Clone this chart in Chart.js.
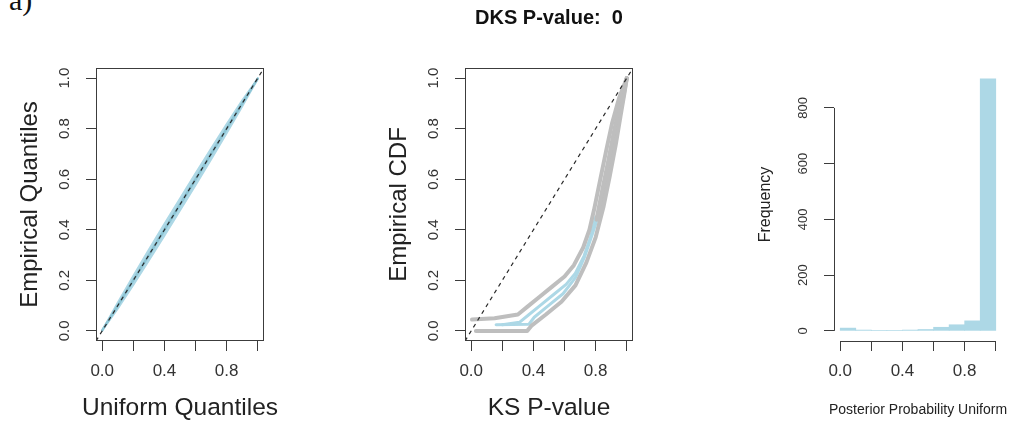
<!DOCTYPE html>
<html>
<head>
<meta charset="utf-8">
<script src="https://cdn.jsdelivr.net/npm/chart.js@4.4.1/dist/chart.umd.min.js"></script>
<style>
  html, body { margin: 0; padding: 0; background: #fff; width: 1028px; height: 428px; overflow: hidden; }
  .panel { position: absolute; top: 0; height: 428px; }
  #tag { position: absolute; left: 9px; top: -15px; font-family: "Liberation Serif", "DejaVu Serif", serif;
         font-size: 30px; line-height: 30px; color: #111; }
</style>
</head>
<body>
<div id="tag">a)</div>
<div class="panel" style="left:0px;width:300px"><canvas id="qq"></canvas></div>
<div class="panel" style="left:369px;width:300px"><canvas id="ks"></canvas></div>
<div class="panel" style="left:738px;width:290px"><canvas id="hist"></canvas></div>
<script>
// ---- shared tick definitions ----
const unitTicks = [0, 0.2, 0.4, 0.6, 0.8, 1.0];
const unitYLabels = ['0.0', '0.2', '0.4', '0.6', '0.8', '1.0'];
const unitXLabels = ['0.0', '', '0.4', '', '0.8', ''];
const freqTicks = [0, 200, 400, 600, 800];
const freqLabels = ['0', '200', '400', '600', '800'];

// ---- Q-Q panel: empirical vs uniform quantiles ----
const qqUniform  = [0, 0.1, 0.2, 0.3, 0.4, 0.5, 0.6, 0.7, 0.8, 0.9, 1.0];
const qqBandHigh = [0.004, 0.114, 0.220, 0.323, 0.425, 0.525, 0.625, 0.723, 0.820, 0.914, 1.0];
const qqBandLow  = [0.0, 0.086, 0.180, 0.277, 0.375, 0.475, 0.575, 0.677, 0.780, 0.886, 0.996];
const qqMedian   = [0.002, 0.100, 0.201, 0.300, 0.400, 0.500, 0.600, 0.700, 0.800, 0.900, 0.998];
const identityLine = [-0.04, 1.04];

// ---- KS panel: ECDF curves of KS p-values ----
const ksUpperX = [0.005, 0.15, 0.30, 0.36, 0.44, 0.52, 0.60, 0.66, 0.72, 0.76, 0.79, 0.83, 0.87, 0.905, 0.95, 1.0];
const ksUpperY = [0.045, 0.050, 0.065, 0.095, 0.135, 0.175, 0.215, 0.260, 0.330, 0.400, 0.480, 0.600, 0.720, 0.820, 0.920, 1.0];
const ksLowerX = [0.03, 0.36, 0.39, 0.48, 0.58, 0.67, 0.74, 0.80, 0.85, 0.89, 0.93, 0.96, 0.985, 1.0];
const ksLowerY = [0.0, 0.0, 0.022, 0.065, 0.115, 0.180, 0.270, 0.370, 0.490, 0.610, 0.740, 0.850, 0.940, 1.0];
const ksMidAX  = [0.805, 0.84, 0.88, 0.915, 0.95, 0.98, 1.0];
const ksMidAY  = [0.440, 0.550, 0.670, 0.780, 0.880, 0.960, 1.0];
const ksMidBX  = [0.825, 0.86, 0.895, 0.93, 0.96, 0.985, 1.0];
const ksMidBY  = [0.440, 0.550, 0.660, 0.780, 0.870, 0.950, 1.0];
const ksBlueAX = [0.20, 0.31, 0.37, 0.45, 0.53, 0.61, 0.67, 0.725, 0.765, 0.80];
const ksBlueAY = [0.024, 0.034, 0.064, 0.104, 0.144, 0.184, 0.228, 0.296, 0.366, 0.450];
const ksBlueBX = [0.16, 0.37, 0.405, 0.49, 0.59, 0.67, 0.73, 0.78, 0.82];
const ksBlueBY = [0.024, 0.026, 0.054, 0.097, 0.147, 0.211, 0.295, 0.385, 0.460];

// ---- histogram of posterior probability ----
const histBinMids = [0.05, 0.15, 0.25, 0.35, 0.45, 0.55, 0.65, 0.75, 0.85, 0.95];
const histCounts  = [10, 3, 2, 2, 3, 5, 13, 22, 36, 904];

const pts = (xs, ys) => xs.map((x, i) => ({ x: x, y: ys[i] }));

const FONT = '"Liberation Sans", Arial, Helvetica, sans-serif';
Chart.defaults.font.family = FONT;
Chart.defaults.color = '#333';
Chart.defaults.animation = false;

const LIGHTBLUE = '#add8e6';
const GRAY = '#bebebe';
const INK = '#3c3c3c';

// Frame around the plot region (box) or R-style axis lines spanning first..last tick,
// plus the x-axis caption centred under the plot region.
const rFrame = {
  id: 'rFrame',
  afterDraw(chart, args, o) {
    const { ctx, chartArea: a } = chart;
    ctx.save();
    ctx.strokeStyle = INK;
    ctx.lineWidth = 1;
    if (o.mode === 'box') {
      ctx.strokeRect(a.left + 0.5, a.top + 0.5, a.right - a.left - 1, a.bottom - a.top - 1);
    } else if (o.mode === 'axes') {
      const xs = chart.scales.x, ys = chart.scales.y;
      ctx.beginPath();
      ctx.moveTo(a.left + 0.5, ys.getPixelForValue(o.yTicks[0]));
      ctx.lineTo(a.left + 0.5, ys.getPixelForValue(o.yTicks[o.yTicks.length - 1]));
      ctx.moveTo(xs.getPixelForValue(o.xTicks[0]), a.bottom + 0.5);
      ctx.lineTo(xs.getPixelForValue(o.xTicks[o.xTicks.length - 1]), a.bottom + 0.5);
      ctx.stroke();
    }
    if (o.xTitle) {
      ctx.fillStyle = '#222';
      ctx.font = o.xTitle.size + 'px ' + FONT;
      ctx.textAlign = 'center';
      ctx.textBaseline = 'middle';
      ctx.fillText(o.xTitle.text, (a.left + a.right) / 2, o.xTitle.y);
    }
    ctx.restore();
  }
};

function xAxis(cfg) {
  return {
    type: 'linear', min: cfg.min, max: cfg.max, offset: false,
    afterBuildTicks: s => { s.ticks = cfg.ticks.map(v => ({ value: v })); },
    afterFit: s => { s.height = 87; },
    ticks: { autoSkip: false, minRotation: 0, maxRotation: 0, padding: 10, color: '#333',
             font: { size: 17 }, callback: (v, i) => cfg.labels[i] },
    grid: { display: true, drawOnChartArea: false, drawTicks: true, tickLength: 10, color: INK, lineWidth: 1, offset: false },
    border: { display: false },
    title: { display: false }
  };
}

function yAxis(cfg) {
  return {
    type: 'linear', min: cfg.min, max: cfg.max,
    afterBuildTicks: s => { s.ticks = cfg.ticks.map(v => ({ value: v })); },
    afterFit: s => { s.width = 96; },
    ticks: { autoSkip: false, minRotation: 90, maxRotation: 90, crossAlign: 'center', padding: cfg.tickPad,
             color: '#333', font: { size: cfg.tickSize }, callback: (v, i) => cfg.labels[i] },
    grid: { display: true, drawOnChartArea: false, drawTicks: true, tickLength: 10, color: INK, lineWidth: 1 },
    border: { display: false },
    title: { display: true, text: cfg.title, color: '#222', font: { size: cfg.titleSize },
             padding: { top: cfg.titlePad, bottom: 0 } }
  };
}

const baseOptions = (extra) => Object.assign({
  responsive: true,
  maintainAspectRatio: false,
  devicePixelRatio: 1,
  events: [],
  elements: { point: { radius: 0 }, line: { tension: 0, borderCapStyle: 'round', borderJoinStyle: 'round' } }
}, extra);

// ---- Panel 1: Q-Q plot ----
new Chart(document.getElementById('qq'), {
  type: 'line',
  data: {
    datasets: [
      { data: pts(identityLine, identityLine), borderColor: '#2a2a2a', borderWidth: 1.2, borderDash: [4, 4],
        borderCapStyle: 'butt', order: 0, fill: false },
      { data: pts(qqUniform, qqMedian), borderColor: '#8cc4d4', borderWidth: 2.5, order: 1, fill: false },
      { data: pts(qqUniform, qqBandHigh), borderColor: LIGHTBLUE, borderWidth: 1.5,
        backgroundColor: LIGHTBLUE, fill: '+1', order: 2 },
      { data: pts(qqUniform, qqBandLow), borderColor: LIGHTBLUE, borderWidth: 1.5, order: 3, fill: false }
    ]
  },
  options: baseOptions({
    layout: { padding: { left: 0, right: 36, top: 68, bottom: 0 } },
    scales: {
      x: xAxis({ min: -0.04, max: 1.04, ticks: unitTicks, labels: unitXLabels }),
      y: yAxis({ min: -0.04, max: 1.04, ticks: unitTicks, labels: unitYLabels, tickSize: 15, tickPad: 11,
                 title: 'Empirical Quantiles', titleSize: 24, titlePad: 16 })
    },
    plugins: { legend: { display: false }, tooltip: { enabled: false },
               rFrame: { mode: 'box', xTitle: { text: 'Uniform Quantiles', size: 24.5, y: 408 } } }
  }),
  plugins: [rFrame]
});

// ---- Panel 2: ECDF of KS p-values ----
const grayLine = (xs, ys) => ({ data: pts(xs, ys), borderColor: GRAY, borderWidth: 4, order: 1, fill: false });
const blueLine = (xs, ys) => ({ data: pts(xs, ys), borderColor: LIGHTBLUE, borderWidth: 3, order: 2, fill: false });

new Chart(document.getElementById('ks'), {
  type: 'line',
  data: {
    datasets: [
      { data: pts(identityLine, identityLine), borderColor: '#2a2a2a', borderWidth: 1.2, borderDash: [4, 4],
        borderCapStyle: 'butt', order: 0, fill: false },
      grayLine(ksUpperX, ksUpperY),
      grayLine(ksLowerX, ksLowerY),
      grayLine(ksMidAX, ksMidAY),
      grayLine(ksMidBX, ksMidBY),
      blueLine(ksBlueAX, ksBlueAY),
      blueLine(ksBlueBX, ksBlueBY)
    ]
  },
  options: baseOptions({
    layout: { padding: { left: 0, right: 36, top: 0, bottom: 0 } },
    scales: {
      x: xAxis({ min: -0.04, max: 1.04, ticks: unitTicks, labels: unitXLabels }),
      y: yAxis({ min: -0.04, max: 1.04, ticks: unitTicks, labels: unitYLabels, tickSize: 15, tickPad: 11,
                 title: 'Empirical CDF', titleSize: 24, titlePad: 16 })
    },
    plugins: {
      legend: { display: false }, tooltip: { enabled: false },
      rFrame: { mode: 'box', xTitle: { text: 'KS P-value', size: 24.5, y: 408 } },
      title: { display: true, text: 'DKS P-value:  0', fullSize: false, color: '#111',
               font: { size: 20, weight: 'bold' }, padding: { top: 6, bottom: 38 } }
    }
  }),
  plugins: [rFrame]
});

// ---- Panel 3: histogram ----
new Chart(document.getElementById('hist'), {
  type: 'bar',
  data: {
    datasets: [{ data: pts(histBinMids, histCounts), backgroundColor: LIGHTBLUE, borderWidth: 0,
                 barPercentage: 1.0, categoryPercentage: 1.0 }]
  },
  options: baseOptions({
    layout: { padding: { left: 0, right: 26, top: 68, bottom: 0 } },
    scales: {
      x: xAxis({ min: -0.04, max: 1.04, ticks: unitTicks, labels: unitXLabels }),
      y: yAxis({ min: -36.3, max: 943.3, ticks: freqTicks, labels: freqLabels, tickSize: 13, tickPad: 10,
                 title: 'Frequency', titleSize: 16, titlePad: 18 })
    },
    plugins: { legend: { display: false }, tooltip: { enabled: false },
               rFrame: { mode: 'axes', xTicks: unitTicks, yTicks: freqTicks,
                         xTitle: { text: 'Posterior Probability Uniform', size: 14, y: 410 } } }
  }),
  plugins: [rFrame]
});
</script>
</body>
</html>
